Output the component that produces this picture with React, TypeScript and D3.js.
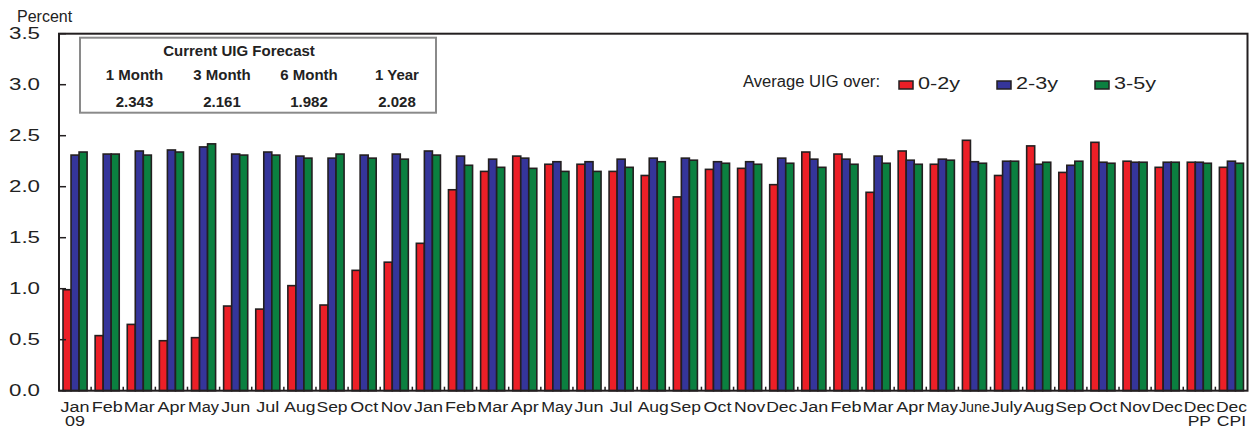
import React from "react";
import * as d3 from "d3";

const categories = [
  "Jan\n09", "Feb", "Mar", "Apr", "May", "Jun", "Jul", "Aug", "Sep", "Oct", "Nov",
  "Jan", "Feb", "Mar", "Apr", "May", "Jun", "Jul", "Aug", "Sep", "Oct", "Nov", "Dec",
  "Jan", "Feb", "Mar", "Apr", "May", "June", "July", "Aug", "Sep", "Oct", "Nov", "Dec",
  "Dec\nPP", "Dec\nCPI",
];

const series02 = [
  0.99, 0.54, 0.65, 0.49, 0.52, 0.83, 0.8, 1.03, 0.84, 1.18, 1.26,
  1.445, 1.97, 2.15, 2.3, 2.22, 2.22, 2.15, 2.11, 1.9, 2.17, 2.18, 2.02,
  2.34, 2.32, 1.945, 2.35, 2.22, 2.455, 2.11, 2.4, 2.14, 2.435, 2.25, 2.19,
  2.24, 2.19,
];
const series23 = [
  2.31, 2.32, 2.35, 2.36, 2.39, 2.32, 2.34, 2.3, 2.28, 2.31, 2.32,
  2.35, 2.3, 2.27, 2.28, 2.245, 2.245, 2.27, 2.28, 2.28, 2.245, 2.245, 2.28,
  2.27, 2.27, 2.3, 2.26, 2.27, 2.245, 2.25, 2.22, 2.21, 2.24, 2.24, 2.24,
  2.24, 2.25,
];
const series35 = [
  2.34, 2.32, 2.31, 2.34, 2.42, 2.31, 2.31, 2.28, 2.32, 2.28, 2.27,
  2.31, 2.21, 2.19, 2.18, 2.15, 2.15, 2.19, 2.245, 2.26, 2.23, 2.22, 2.23,
  2.19, 2.22, 2.23, 2.22, 2.26, 2.23, 2.25, 2.24, 2.25, 2.23, 2.24, 2.24,
  2.23, 2.23,
];

const seriesNames = ["0-2y", "2-3y", "3-5y"];
const seriesColors = ["#ec1f27", "#35359a", "#0b8040"];

const yTicks = [0, 0.5, 1.0, 1.5, 2.0, 2.5, 3.0, 3.5];

const forecastHeaders = ["1 Month", "3 Month", "6 Month", "1 Year"];
const forecastValues = ["2.343", "2.161", "1.982", "2.028"];

const W = 1254;
const H = 430;
const plotLeft = 59;
const plotRight = 1247.5;
const plotTop = 33.7;
const plotBottom = 390.7;
const ink = "#231f20";
const font = "'Liberation Sans', Arial, sans-serif";

let measureCtx: CanvasRenderingContext2D | null = null;
function textWidth(s: string, size: number): number {
  if (!measureCtx && typeof document !== "undefined") {
    measureCtx = document.createElement("canvas").getContext("2d");
  }
  if (!measureCtx) return s.length * size * 0.55;
  measureCtx.font = `${size}px 'Liberation Sans', Arial, sans-serif`;
  return measureCtx.measureText(s).width;
}

export default function App() {
  const allSeries = [series02, series23, series35];
  const x = d3
    .scaleBand<number>()
    .domain(d3.range(categories.length))
    .range([plotLeft, plotRight])
    .paddingInner(0.25)
    .paddingOuter(0.125);
  const xs = d3
    .scaleBand<number>()
    .domain([0, 1, 2])
    .range([0, x.bandwidth()]);
  const y = d3.scaleLinear().domain([0, 3.5]).range([plotBottom, plotTop]);
  const step = x.step();

  const boxCols = [134.5, 222, 309, 397];

  return (
    <div style={{ position: "absolute", left: 0, top: 0 }}>
      <svg width={W} height={H} style={{ display: "block", background: "#fff" }} fontFamily={font}>
        <text x={17} y={22} fontSize={16} fill="#222">Percent</text>

        {/* y tick labels */}
        {yTicks.map((t) => (
          <text
            key={"yl" + t}
            x={40}
            y={y(t) + 5.5}
            fontSize={16}
            textAnchor="end"
            fill="#222"
            textLength={31}
            lengthAdjust="spacingAndGlyphs"
          >
            {t.toFixed(1)}
          </text>
        ))}

        {/* bars */}
        {categories.map((c, i) =>
          allSeries.map((s, k) => (
            <rect
              key={"b" + i + "-" + k}
              x={(x(i) as number) + (xs(k) as number)}
              y={y(s[i])}
              width={xs.bandwidth()}
              height={plotBottom - y(s[i])}
              fill={seriesColors[k]}
              stroke={ink}
              strokeWidth={1.6}
            />
          ))
        )}

        {/* frame */}
        <rect
          x={plotLeft}
          y={plotTop}
          width={plotRight - plotLeft}
          height={plotBottom - plotTop}
          fill="none"
          stroke={ink}
          strokeWidth={2}
        />

        {/* y ticks (inward) */}
        {yTicks.map((t) => (
          <line key={"yt" + t} x1={plotLeft} x2={plotLeft + 7} y1={y(t)} y2={y(t)} stroke={ink} strokeWidth={1.5} />
        ))}

        {/* x minor ticks at group boundaries */}
        {d3.range(1, categories.length).map((i) => (
          <line
            key={"xt" + i}
            x1={plotLeft + i * step}
            x2={plotLeft + i * step}
            y1={plotBottom}
            y2={plotBottom - 4}
            stroke={ink}
            strokeWidth={1.5}
          />
        ))}

        {/* x labels */}
        {categories.map((c, i) => {
          const parts = c.split("\n");
          const cx = (x(i) as number) + x.bandwidth() / 2;
          const w = Math.max(...parts.map((p) => textWidth(p, 15)));
          const sx = Math.min(1.2, (step - 1) / w);
          return (
            <text
              key={"xl" + i}
              transform={`translate(${cx},411.5) scale(${sx},1)`}
              fontSize={15}
              textAnchor="middle"
              fill="#222"
            >
              {parts.map((p, j) => (
                <tspan key={j} x={0} dy={j === 0 ? 0 : 15}>
                  {p}
                </tspan>
              ))}
            </text>
          );
        })}

        {/* forecast box */}
        <rect x={80} y={37.7} width={356} height={75} fill="#fff" stroke="#8a8a8a" strokeWidth={2} />
        <text x={239} y={56} fontSize={15} fontWeight="bold" textAnchor="middle" fill="#222">
          Current UIG Forecast
        </text>
        {forecastHeaders.map((h, i) => (
          <text key={"fh" + i} x={boxCols[i]} y={80} fontSize={15} fontWeight="bold" textAnchor="middle" fill="#222">
            {h}
          </text>
        ))}
        {forecastValues.map((v, i) => (
          <text key={"fv" + i} x={boxCols[i]} y={107} fontSize={15} fontWeight="bold" textAnchor="middle" fill="#222">
            {v}
          </text>
        ))}

        {/* legend */}
        <text x={743} y={87} fontSize={16} fill="#222" textLength={137} lengthAdjust="spacingAndGlyphs">
          Average UIG over:
        </text>
        {seriesNames.map((n, k) => {
          const lx = [899, 997, 1095][k];
          return (
            <g key={"lg" + k}>
              <rect x={lx} y={81} width={14} height={8} fill={seriesColors[k]} stroke={ink} strokeWidth={1.5} />
              <text
                x={lx + 19}
                y={88.5}
                fontSize={16}
                fill="#222"
                textLength={42}
                lengthAdjust="spacingAndGlyphs"
              >
                {n}
              </text>
            </g>
          );
        })}
      </svg>
    </div>
  );
}
